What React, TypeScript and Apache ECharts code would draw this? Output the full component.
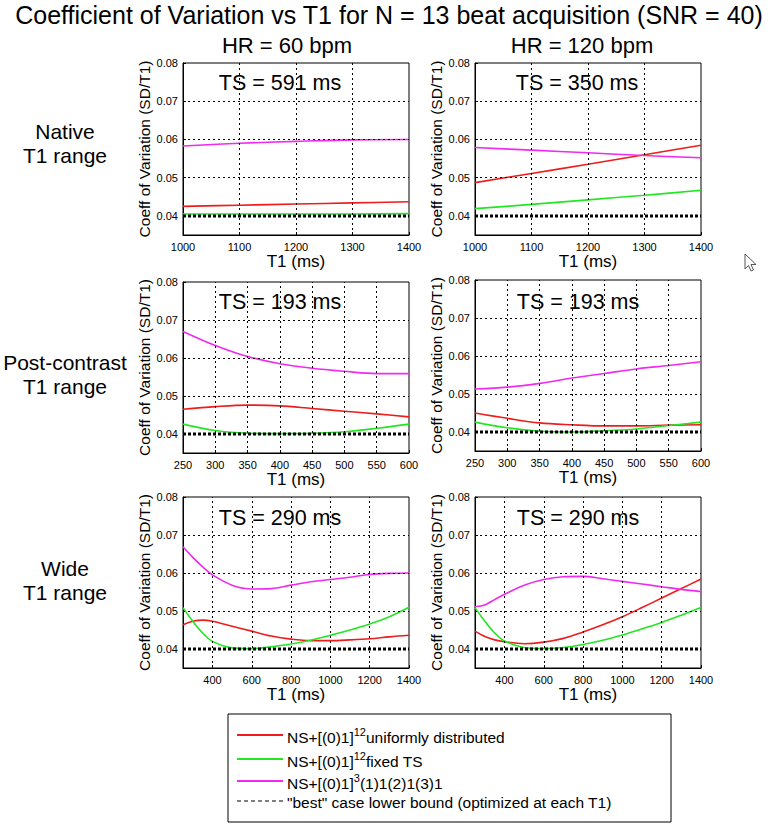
import React, { useEffect, useRef } from 'react';
import * as echarts from 'echarts';

const FONT = '"Liberation Sans", Arial, Helvetica, sans-serif';

// ---------- data ----------
const xNative = [1000, 1100, 1200, 1300, 1400];
const xPost = [250, 300, 350, 400, 450, 500, 550, 600];
const xWide = [250, 300, 350, 400, 500, 600, 700, 800, 900, 1000, 1100, 1200, 1300, 1400];

// Native T1 range, HR = 60
const redNative60 = [0.0425, 0.0428, 0.0431, 0.0434, 0.0437];
const greenNative60 = [0.0405, 0.0405, 0.0405, 0.0405, 0.0406];
const magentaNative60 = [0.0583, 0.0590, 0.0595, 0.0599, 0.0600];
// Native T1 range, HR = 120
const redNative120 = [0.0487, 0.0511, 0.0535, 0.0560, 0.0585];
const greenNative120 = [0.0419, 0.0430, 0.0442, 0.0454, 0.0467];
const magentaNative120 = [0.0579, 0.0572, 0.0565, 0.0558, 0.0552];
// Post-contrast, HR = 60
const redPost60 = [0.0465, 0.0472, 0.0476, 0.0474, 0.0467, 0.0460, 0.0453, 0.0445];
const greenPost60 = [0.0426, 0.0409, 0.0402, 0.0401, 0.0402, 0.0406, 0.0415, 0.0426];
const magentaPost60 = [0.0670, 0.0633, 0.0604, 0.0585, 0.0573, 0.0565, 0.0559, 0.0559];
// Post-contrast, HR = 120
const redPost120 = [0.0450, 0.0436, 0.0424, 0.0419, 0.0416, 0.0416, 0.0418, 0.0419];
const greenPost120 = [0.0426, 0.0411, 0.0402, 0.0400, 0.0403, 0.0408, 0.0417, 0.0426];
const magentaPost120 = [0.0513, 0.0518, 0.0528, 0.0542, 0.0554, 0.0566, 0.0575, 0.0585];
// Wide, HR = 60
const redWide60 = [0.0464, 0.0473, 0.0476, 0.0473, 0.0460, 0.0447, 0.0434, 0.0426, 0.0422, 0.0422, 0.0424, 0.0427, 0.0432, 0.0436];
const greenWide60 = [0.0509, 0.0473, 0.0442, 0.0420, 0.0403, 0.0401, 0.0406, 0.0413, 0.0423, 0.0436, 0.0450, 0.0466, 0.0485, 0.0510];
const magentaWide60 = [0.0669, 0.0641, 0.0616, 0.0595, 0.0568, 0.0558, 0.0559, 0.0568, 0.0577, 0.0583, 0.0589, 0.0596, 0.0599, 0.0600];
// Wide, HR = 120
const redWide120 = [0.0447, 0.0433, 0.0424, 0.0419, 0.0414, 0.0418, 0.0428, 0.0445, 0.0464, 0.0485, 0.0509, 0.0534, 0.0559, 0.0584];
const greenWide120 = [0.0509, 0.0473, 0.0442, 0.0421, 0.0404, 0.0401, 0.0404, 0.0412, 0.0423, 0.0437, 0.0453, 0.0470, 0.0489, 0.0509];
const magentaWide120 = [0.0511, 0.0516, 0.0530, 0.0544, 0.0568, 0.0583, 0.0590, 0.0591, 0.0585, 0.0578, 0.0571, 0.0564, 0.0557, 0.0551];

const lowerBound = 0.04;

const yTicks = [0.04, 0.05, 0.06, 0.07, 0.08];
const yGridLines = [0.04, 0.05, 0.06, 0.07];
const xTicksNative = [1000, 1100, 1200, 1300, 1400];
const xTicksPost = [250, 300, 350, 400, 450, 500, 550, 600];
const xTicksWide = [400, 600, 800, 1000, 1200, 1400];

const mainTitle = 'Coefficient of Variation vs T1 for N = 13 beat acquisition (SNR = 40)';
const columnTitles = ['HR = 60 bpm', 'HR = 120 bpm'];
const rowTitles = ['Native\nT1 range', 'Post-contrast\nT1 range', 'Wide\nT1 range'];
const tsLabels = ['TS = 591 ms', 'TS = 350 ms', 'TS = 193 ms', 'TS = 193 ms', 'TS = 290 ms', 'TS = 290 ms'];
const xAxisName = 'T1 (ms)';
const yAxisName = 'Coeff of Variation (SD/T1)';

const legendEntries = [
  { base: 'NS+[(0)1]', sup: '12', rest: 'uniformly distributed' },
  { base: 'NS+[(0)1]', sup: '12', rest: 'fixed TS' },
  { base: 'NS+[(0)1]', sup: '3', rest: '(1)1(2)1(3)1' },
  { base: '"best" case lower bound (optimized at each T1)', sup: '', rest: '' },
];

const RED = '#ee1c1c';
const GREEN = '#22e622';
const MAGENTA = '#f02af0';

// ---------- panels ----------
const panels = [
  { x: xNative, red: redNative60, green: greenNative60, magenta: magentaNative60, ticks: xTicksNative, min: 1000, max: 1400 },
  { x: xNative, red: redNative120, green: greenNative120, magenta: magentaNative120, ticks: xTicksNative, min: 1000, max: 1400 },
  { x: xPost, red: redPost60, green: greenPost60, magenta: magentaPost60, ticks: xTicksPost, min: 250, max: 600 },
  { x: xPost, red: redPost120, green: greenPost120, magenta: magentaPost120, ticks: xTicksPost, min: 250, max: 600 },
  { x: xWide, red: redWide60, green: greenWide60, magenta: magentaWide60, ticks: xTicksWide, min: 250, max: 1400 },
  { x: xWide, red: redWide120, green: greenWide120, magenta: magentaWide120, ticks: xTicksWide, min: 250, max: 1400 },
];

const gridRects = [
  { left: 183, top: 63, width: 226, height: 172 },
  { left: 475, top: 63, width: 226, height: 172 },
  { left: 183, top: 282, width: 226, height: 171 },
  { left: 475, top: 280, width: 226, height: 171 },
  { left: 183, top: 497, width: 226, height: 171 },
  { left: 475, top: 497, width: 226, height: 171 },
];

const zip = (xs: number[], ys: number[]) => xs.map((x, i) => [x, ys[i]]);

function buildOption() {
  const grid = gridRects.map((r) => ({
    ...r,
    show: true,
    borderColor: '#000',
    borderWidth: 1,
    backgroundColor: '#fff',
    containLabel: false,
  }));

  const xAxis = panels.map((p, i) => ({
    type: 'value',
    gridIndex: i,
    min: p.min,
    max: p.max,
    name: xAxisName,
    nameLocation: 'middle',
    nameGap: 18,
    nameTextStyle: { fontSize: 17, color: '#000', fontFamily: FONT },
    axisLine: { show: true, lineStyle: { color: '#000', width: 1 } },
    axisTick: { show: true, inside: true, length: 3, customValues: p.ticks, lineStyle: { color: '#000' } },
    axisLabel: {
      show: true,
      customValues: p.ticks,
      color: '#000',
      fontSize: 11,
      fontFamily: FONT,
      margin: 6,
      showMinLabel: true,
      showMaxLabel: true,
      formatter: (v: number) => String(v),
    },
    splitLine: { show: false },
  }));

  const yAxis = panels.map((_p, i) => ({
    type: 'value',
    gridIndex: i,
    min: 0.035,
    max: 0.08,
    name: yAxisName,
    nameLocation: 'middle',
    nameGap: 27,
    nameTextStyle: { fontSize: 15.5, color: '#000', fontFamily: FONT },
    axisLine: { show: true, lineStyle: { color: '#000', width: 1 } },
    axisTick: { show: true, inside: true, length: 3, customValues: yTicks, lineStyle: { color: '#000' } },
    axisLabel: {
      show: true,
      customValues: yTicks,
      color: '#000',
      fontSize: 11,
      fontFamily: FONT,
      margin: 5,
      formatter: (v: number) => v.toFixed(2),
    },
    splitLine: { show: false },
  }));

  const series: any[] = [];
  panels.forEach((p, i) => {
    const bound = [[p.min, lowerBound], [p.max, lowerBound]];
    // grid lines (dotted)
    series.push({
      type: 'line',
      xAxisIndex: i,
      yAxisIndex: i,
      data: bound,
      showSymbol: false,
      silent: true,
      z: 1,
      lineStyle: { opacity: 0, width: 0 },
      markLine: {
        silent: true,
        symbol: ['none', 'none'],
        label: { show: false },
        animation: false,
        lineStyle: { color: '#000', type: [2, 3], width: 1, opacity: 1 },
        emphasis: { disabled: true },
        data: [
          ...yGridLines.map((v) => ({ yAxis: v })),
          ...p.ticks.filter((v) => v > p.min && v < p.max).map((v) => ({ xAxis: v })),
        ],
      },
    });
    const curves = [
      { d: p.red, c: RED },
      { d: p.green, c: GREEN },
      { d: p.magenta, c: MAGENTA },
    ];
    curves.forEach((cv) => {
      series.push({
        type: 'line',
        xAxisIndex: i,
        yAxisIndex: i,
        data: zip(p.x, cv.d),
        smooth: 0.35,
        showSymbol: false,
        silent: true,
        z: 3,
        lineStyle: { color: cv.c, width: 1.6 },
      });
    });
    series.push({
      type: 'line',
      xAxisIndex: i,
      yAxisIndex: i,
      data: bound,
      showSymbol: false,
      silent: true,
      z: 4,
      lineStyle: { color: '#000', width: 3, type: [3, 2] },
    });
  });

  const texts: any[] = [];
  texts.push({
    type: 'text',
    z: 0,
    style: { text: mainTitle, x: 389, y: 15, align: 'center', verticalAlign: 'middle', fontSize: 25, fontFamily: FONT, fill: '#000' },
  });
  const colCenters = [287, 582];
  columnTitles.forEach((t, i) => {
    texts.push({
      type: 'text',
      z: 0,
      style: { text: t, x: colCenters[i], y: 45, align: 'center', verticalAlign: 'middle', fontSize: 22, fontFamily: FONT, fill: '#000' },
    });
  });
  const rowCenters = [143, 374, 580];
  rowTitles.forEach((t, i) => {
    texts.push({
      type: 'text',
      z: 0,
      style: { text: t, x: 65, y: rowCenters[i], align: 'center', verticalAlign: 'middle', fontSize: 21, lineHeight: 24, fontFamily: FONT, fill: '#000' },
    });
  });
  const tsPos = [
    [280, 83], [577, 83],
    [280, 302], [578, 302],
    [280, 518], [578, 518],
  ];
  tsLabels.forEach((t, i) => {
    texts.push({
      type: 'text',
      z: 0,
      style: { text: t, x: tsPos[i][0], y: tsPos[i][1], align: 'center', verticalAlign: 'middle', fontSize: 21.5, fontFamily: FONT, fill: '#000' },
    });
  });

  // legend
  const legendColors = [RED, GREEN, MAGENTA, '#000'];
  const legendRows = [735, 759, 781, 801];
  const legendEls: any[] = [
    {
      type: 'rect',
      shape: { x: 228, y: 714, width: 443, height: 108 },
      style: { fill: '#fff', stroke: '#000', lineWidth: 1 },
      z: 5,
    },
  ];
  legendEntries.forEach((e, i) => {
    legendEls.push({
      type: 'line',
      z: 6,
      shape: { x1: 237, y1: legendRows[i], x2: 283, y2: legendRows[i] },
      style: i === 3
        ? { stroke: '#000', lineWidth: 1, lineDash: [4, 3] }
        : { stroke: legendColors[i], lineWidth: 1.8 },
    });
    const txt = e.sup ? `{n|${e.base}}{s|${e.sup}}{n|${e.rest}}` : `{n|${e.base}}`;
    legendEls.push({
      type: 'text',
      z: 6,
      style: {
        text: txt,
        x: 287,
        y: legendRows[i] + 1,
        verticalAlign: 'middle',
        align: 'left',
        rich: {
          n: { fontSize: 15.5, fontFamily: FONT, fill: '#000', verticalAlign: 'bottom' },
          s: { fontSize: 11, fontFamily: FONT, fill: '#000', verticalAlign: 'bottom', padding: [0, 0, 8, 0] },
        },
      },
    });
  });

  // mouse cursor artifact
  const cursor = {
    type: 'polygon',
    z: 6,
    shape: { points: [[745, 254], [745, 269], [748.5, 265.5], [751, 271], [753.5, 270], [751, 264.5], [756, 264.5]] },
    style: { fill: '#fff', stroke: '#555', lineWidth: 1 },
  };

  return {
    animation: false,
    backgroundColor: '#fff',
    grid,
    xAxis,
    yAxis,
    series,
    graphic: { elements: [...texts, ...legendEls, cursor] },
  };
}

export default function App() {
  const ref = useRef<HTMLDivElement>(null);
  useEffect(() => {
    if (!ref.current) return;
    const chart = echarts.init(ref.current, undefined, { renderer: 'svg' });
    chart.setOption(buildOption() as any);
    return () => chart.dispose();
  }, []);
  return (
    <div
      ref={ref}
      style={{ position: 'absolute', left: 0, top: 0, width: 778, height: 826, background: '#fff' }}
    />
  );
}
